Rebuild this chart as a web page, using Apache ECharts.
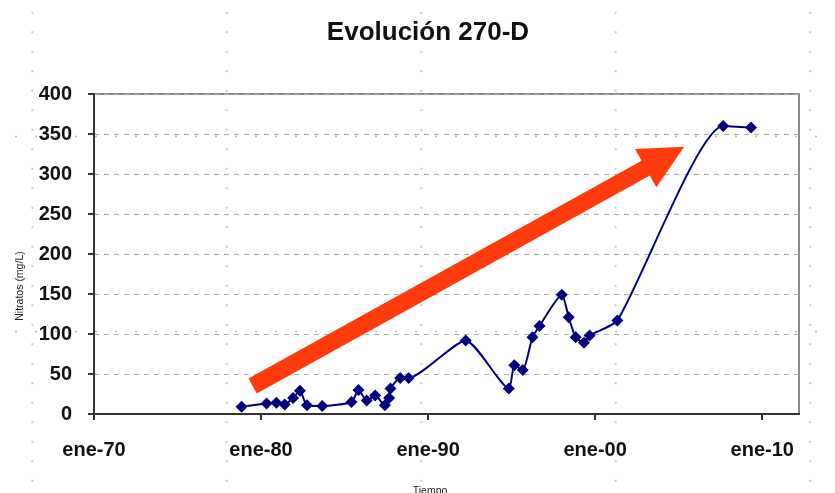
<!DOCTYPE html>
<html>
<head>
<meta charset="utf-8">
<script src="https://cdn.jsdelivr.net/npm/echarts@6/dist/echarts.min.js"></script>
<style>
  html, body { margin: 0; padding: 0; background: #fff; }
  /* faint worksheet cell grid behind the chart */
  #chart {
    width: 835px; height: 493px;
    background-image:
      radial-gradient(circle, #bdbdbd 0, #bdbdbd 0.7px, rgba(255,255,255,0) 1.3px),
      radial-gradient(circle, #bdbdbd 0, #bdbdbd 0.7px, rgba(255,255,255,0) 1.3px);
    background-size: 194.5px 19.5px, 20px 195px;
    background-position: -65px 3px, 6px 39px;
  }
</style>
</head>
<body>
<div id="chart"></div>
<script>
// Sampling dates (year-month) and nitrate concentrations (mg/L) for well 270-D
const sampleDates = [
  '1978-11', '1980-05', '1980-12', '1981-06', '1981-12', '1982-05', '1982-10', '1983-09',
  '1985-06', '1985-11', '1986-05', '1986-11', '1987-06', '1987-09', '1987-10', '1988-05',
  '1988-11', '1992-04', '1994-11', '1995-03', '1995-09', '1996-04', '1996-09', '1998-01',
  '1998-06', '1998-11', '1999-05', '1999-09', '2001-05', '2007-09', '2009-05'
];
const nitrateValues = [
  9, 13, 14, 12, 20, 29, 11, 10,
  15, 30, 17, 23, 11, 20, 32, 45,
  45, 92, 32, 61, 55, 96, 110, 149,
  121, 96, 89, 98, 117, 360, 358
];

// Decade tick labels on the time axis (one every ten years from ene-70)
const xTickLabels = ['ene-70', 'ene-80', 'ene-90', 'ene-00', 'ene-10'];
const xAxisStart = '1970-01';
const xAxisEnd = '2012-03';
const yTickValues = [0, 50, 100, 150, 200, 250, 300, 350, 400];

// Trend arrow, anchored in data space: [date, value]
const trendFrom = ['1979-07', 35];
const trendTo = ['2005-05', 334];

// 'YYYY-MM' -> UTC milliseconds (1970-01 is 0)
function toTime(s) {
  const [y, m] = s.split('-').map(Number);
  return Date.UTC(y, m - 1, 1);
}
const DECADE_MS = 3652.5 * 86400000;

const chart = echarts.init(document.getElementById('chart'), null, { renderer: 'canvas' });

const option = {
  backgroundColor: 'transparent',
  animation: false,
  title: {
    text: 'Evolución 270-D',
    left: 423,
    top: 15,
    textAlign: 'center',
    textStyle: { fontFamily: 'Liberation Sans, Arial, sans-serif', fontWeight: 'bold', fontSize: 26, color: '#111' }
  },
  grid: {
    left: 94, right: 36, top: 94, bottom: 79,
    show: true, borderColor: '#8a8a8a', borderWidth: 2, backgroundColor: 'transparent'
  },
  xAxis: {
    type: 'value',
    min: toTime(xAxisStart),
    max: toTime(xAxisEnd) + 14 * 86400000,
    interval: DECADE_MS,
    axisLine: { onZero: false, lineStyle: { color: '#333', width: 2 } },
    axisTick: { show: true, length: 6, lineStyle: { color: '#333', width: 2 } },
    axisLabel: {
      margin: 26,
      showMaxLabel: false,
      fontFamily: 'Liberation Sans, Arial, sans-serif',
      fontWeight: 'bold', fontSize: 20, color: '#111',
      formatter: function (v) {
        const i = Math.round((v - toTime(xAxisStart)) / DECADE_MS);
        return Math.abs(v - toTime(xAxisStart) - i * DECADE_MS) < 86400000 * 3 && xTickLabels[i] ? xTickLabels[i] : '';
      }
    },
    splitLine: { show: false }
  },
  yAxis: {
    type: 'value',
    min: 0, max: 400, interval: 50,
    axisLine: { show: true, lineStyle: { color: '#333', width: 2 } },
    axisTick: { show: true, length: 6, lineStyle: { color: '#333', width: 2 } },
    axisLabel: {
      margin: 22,
      fontFamily: 'Liberation Sans, Arial, sans-serif',
      fontWeight: 'bold', fontSize: 20, color: '#111',
      formatter: v => (yTickValues.indexOf(v) >= 0 ? String(v) : '')
    },
    splitLine: { show: true, lineStyle: { color: '#b0b0b0', type: [5, 5], width: 1.2 } }
  },
  series: [{
    type: 'line',
    data: sampleDates.map((d, i) => [toTime(d), nitrateValues[i]]),
    smooth: 0.2,
    symbol: 'diamond',
    symbolSize: 12,
    showAllSymbol: true,
    lineStyle: { color: '#00007f', width: 2 },
    itemStyle: { color: '#00007f' },
    z: 3
  }],
  graphic: [
    {
      type: 'text',
      x: 20, y: 286,
      rotation: Math.PI / 2,
      style: {
        text: 'Nitratos (mg/L)',
        fontFamily: 'Liberation Sans, Arial, sans-serif',
        fontSize: 10.5, fill: '#222',
        align: 'center', verticalAlign: 'middle'
      }
    },
    {
      type: 'text',
      x: 430, y: 491,
      style: {
        text: 'Tiempo',
        fontFamily: 'Liberation Sans, Arial, sans-serif',
        fontSize: 10.5, fill: '#222',
        align: 'center', verticalAlign: 'middle'
      }
    }
  ]
};

chart.setOption(option);

// Build the trend arrow from the data-space anchors
function arrowPoints(p0, p1, shaftW, headW, headL) {
  const dx = p1[0] - p0[0], dy = p1[1] - p0[1];
  const len = Math.sqrt(dx * dx + dy * dy);
  const ux = dx / len, uy = dy / len;
  const nx = -uy, ny = ux;
  const bx = p1[0] - ux * headL, by = p1[1] - uy * headL;
  return [
    [p0[0] + nx * shaftW / 2, p0[1] + ny * shaftW / 2],
    [bx + nx * shaftW / 2, by + ny * shaftW / 2],
    [bx + nx * headW / 2, by + ny * headW / 2],
    [p1[0], p1[1]],
    [bx - nx * headW / 2, by - ny * headW / 2],
    [bx - nx * shaftW / 2, by - ny * shaftW / 2],
    [p0[0] - nx * shaftW / 2, p0[1] - ny * shaftW / 2]
  ];
}
const a0 = chart.convertToPixel({ gridIndex: 0 }, [toTime(trendFrom[0]), trendFrom[1]]);
const a1 = chart.convertToPixel({ gridIndex: 0 }, [toTime(trendTo[0]), trendTo[1]]);
chart.setOption({
  graphic: [
    {},
    {},
    {
      type: 'polygon',
      z: 10,
      shape: { points: arrowPoints(a0, a1, 17, 44, 44) },
      style: { fill: '#ff3a0c' }
    }
  ]
});
</script>
</body>
</html>
